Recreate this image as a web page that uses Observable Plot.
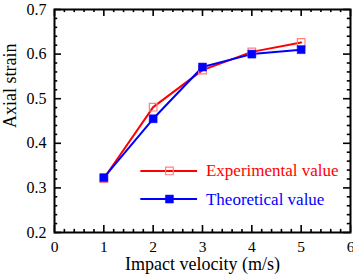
<!DOCTYPE html>
<html><head><meta charset="utf-8">
<script src="https://cdn.jsdelivr.net/npm/d3@7"></script>
<script src="https://cdn.jsdelivr.net/npm/@observablehq/plot@0.6"></script>
<style>body{margin:0;background:#fff}</style>
</head><body><div id="chart"></div>
<script>
const velocity = [1, 2, 3, 4, 5];
const experimental = [0.321, 0.481, 0.564, 0.605, 0.626];
const theoretical = [0.323, 0.455, 0.571, 0.600, 0.610];
const seriesNames = ["Experimental value", "Theoretical value"];
const xTicks = [0, 1, 2, 3, 4, 5, 6];
const yTicks = [0.2, 0.3, 0.4, 0.5, 0.6, 0.7];
const xMinor = d3.range(0, 30).map(i => i * 0.2).filter(v => Math.abs(v - Math.round(v)) > 1e-6);
const yMinor = d3.range(10, 35).map(i => i * 0.02).filter(v => Math.abs(v * 10 - Math.round(v * 10)) > 1e-6);

const expData = velocity.map((v, i) => ({x: v, y: experimental[i]}));
const theoData = velocity.map((v, i) => ({x: v, y: theoretical[i]}));

const RED = "#ff0000", BLUE = "#0000ff", PINK = "#ff8080";
const font = "'Liberation Serif', 'Times New Roman', serif";

const chart = Plot.plot({
  width: 353, height: 274,
  marginLeft: 54, marginRight: 3, marginTop: 9, marginBottom: 42,
  style: {fontFamily: font, fontSize: "16px", background: "#fff", color: "#000"},
  x: {domain: [0, 6]},
  y: {domain: [0.2, 0.7]},
  marks: [
    // tick marks (inward, all four sides)
    Plot.ruleX(xTicks, {x: d => d, y1: 0.2, y2: 0.2157, stroke: "#000", strokeWidth: 1.6}),
    Plot.ruleX(xTicks, {x: d => d, y1: 0.7, y2: 0.6843, stroke: "#000", strokeWidth: 1.6}),
    Plot.ruleX(xMinor, {x: d => d, y1: 0.2, y2: 0.207, stroke: "#000", strokeWidth: 1.6}),
    Plot.ruleX(xMinor, {x: d => d, y1: 0.7, y2: 0.693, stroke: "#000", strokeWidth: 1.6}),
    Plot.ruleY(yTicks, {y: d => d, x1: 0, x2: 0.142, stroke: "#000", strokeWidth: 1.6}),
    Plot.ruleY(yTicks, {y: d => d, x1: 6, x2: 5.858, stroke: "#000", strokeWidth: 1.6}),
    Plot.ruleY(yMinor, {y: d => d, x1: 0, x2: 0.065, stroke: "#000", strokeWidth: 1.6}),
    Plot.ruleY(yMinor, {y: d => d, x1: 6, x2: 5.935, stroke: "#000", strokeWidth: 1.6}),
    Plot.frame({stroke: "#000", strokeWidth: 2}),
    Plot.axisX({ticks: xTicks, tickSize: 0, tickPadding: 8, fontSize: 15.5, label: null, tickFormat: d3.format("d")}),
    Plot.axisY({ticks: yTicks, tickSize: 0, tickPadding: 8, fontSize: 16, label: null, tickFormat: d3.format(".1f")}),
    // series
    Plot.line(expData, {x: "x", y: "y", stroke: RED, strokeWidth: 2}),
    Plot.line(theoData, {x: "x", y: "y", stroke: BLUE, strokeWidth: 2}),
    Plot.dot(expData, {x: "x", y: "y", symbol: "square", r: 4.3, fill: "none", stroke: PINK, strokeWidth: 1.2}),
    Plot.dot(theoData, {x: "x", y: "y", symbol: "square", r: 4.5, fill: BLUE, stroke: BLUE, strokeWidth: 0.5}),
    // legend
    Plot.ruleY([0.338], {x1: 1.75, x2: 2.9, stroke: RED, strokeWidth: 2}),
    Plot.dot([0], {x: () => 2.33, y: () => 0.338, symbol: "square", r: 4.3, fill: "none", stroke: PINK, strokeWidth: 1.2}),
    Plot.text([seriesNames[0]], {x: () => 3.07, y: () => 0.338, text: d => d, textAnchor: "start", fill: RED, fontSize: 17}),
    Plot.ruleY([0.275], {x1: 1.75, x2: 2.9, stroke: BLUE, strokeWidth: 2}),
    Plot.dot([0], {x: () => 2.33, y: () => 0.275, symbol: "square", r: 4.5, fill: BLUE, stroke: BLUE, strokeWidth: 0.5}),
    Plot.text([seriesNames[1]], {x: () => 3.07, y: () => 0.275, text: d => d, textAnchor: "start", fill: BLUE, fontSize: 17}),
    // axis titles
    Plot.text(["Impact velocity (m/s)"], {frameAnchor: "bottom", dy: 37, text: d => d, fontSize: 18, fill: "#000"}),
    Plot.text(["Axial strain"], {frameAnchor: "left", dx: -44, dy: 7, rotate: -90, text: d => d, fontSize: 18, fill: "#000"})
  ]
});
document.getElementById("chart").appendChild(chart);
</script>
</body></html>
